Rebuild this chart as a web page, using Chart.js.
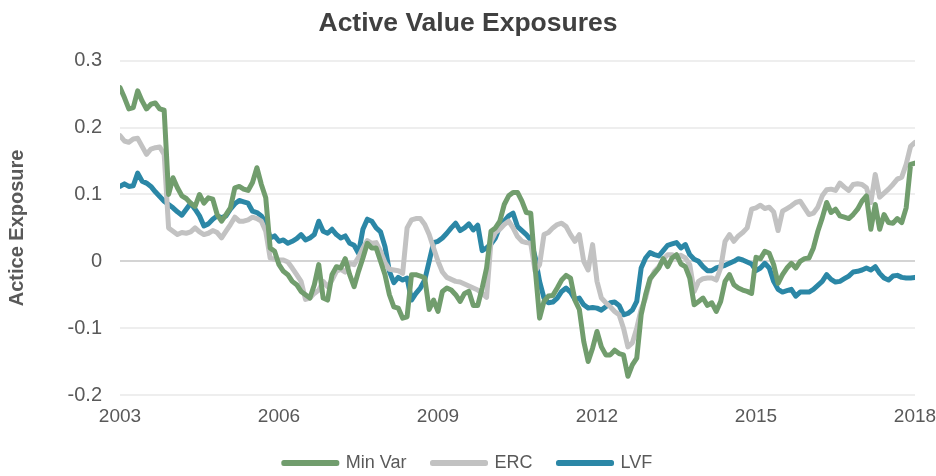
<!DOCTYPE html>
<html>
<head>
<meta charset="utf-8">
<script src="https://cdn.jsdelivr.net/npm/chart.js@4.4.1/dist/chart.umd.min.js"></script>
<style>
  body { margin: 0; background: #fff; }
  #wrap { width: 936px; height: 476px; }
</style>
</head>
<body>
<div id="wrap"><canvas id="chart"></canvas></div>
<script>
// Monthly series, Jan 2003 .. Jan 2018
const startYear = 2003;
const seriesNames = ["Min Var", "ERC", "LVF"];

const minVar = [
  0.26, 0.245, 0.228, 0.23, 0.255, 0.24, 0.228, 0.235, 0.237, 0.228,
  0.226, 0.10, 0.125, 0.11, 0.098, 0.094, 0.087, 0.082, 0.1, 0.087,
  0.095, 0.093, 0.07, 0.06, 0.07, 0.08, 0.11, 0.112, 0.108, 0.106,
  0.118, 0.14, 0.115, 0.095, 0.02, 0.015, -0.005, -0.015, -0.02, -0.03,
  -0.035, -0.045, -0.05, -0.055, -0.035, -0.005, -0.055, -0.058, -0.02, -0.008,
  -0.01, 0.004, -0.02, -0.038, -0.015, 0.005, 0.027, 0.02, 0.02, 0.0,
  -0.02, -0.05, -0.068, -0.07, -0.085, -0.083, -0.02, -0.02, -0.022, -0.025,
  -0.072, -0.058, -0.075, -0.045, -0.04, -0.043, -0.05, -0.06, -0.048, -0.045,
  -0.066, -0.066, -0.04, -0.01, 0.045, 0.05, 0.06, 0.085, 0.098, 0.103,
  0.103, 0.09, 0.073, 0.072, -0.01, -0.085, -0.06, -0.052, -0.051, -0.04,
  -0.028, -0.021, -0.025, -0.058, -0.072, -0.12, -0.15, -0.13, -0.105, -0.128,
  -0.14, -0.14, -0.133, -0.138, -0.14, -0.172, -0.155, -0.145, -0.08, -0.05,
  -0.026, -0.018, -0.01, 0.004, -0.008, 0.005, 0.01, -0.004, -0.008, -0.025,
  -0.065, -0.06, -0.055, -0.066, -0.062, -0.075, -0.06, -0.03, -0.02, -0.035,
  -0.04, -0.043, -0.045, -0.048, 0.006, 0.004, 0.015, 0.012, -0.005, -0.033,
  -0.02, -0.01, -0.003, -0.01, 0.0, 0.004, 0.005, 0.02, 0.045, 0.065,
  0.088, 0.073, 0.078, 0.068, 0.066, 0.064, 0.07, 0.078, 0.09, 0.098,
  0.048, 0.085, 0.048, 0.07, 0.058, 0.057, 0.064, 0.058, 0.08, 0.145, 0.147
];

const erc = [
  0.188, 0.18, 0.178, 0.183, 0.184, 0.172, 0.16, 0.168, 0.17, 0.171,
  0.16, 0.05, 0.045, 0.04, 0.043, 0.042, 0.044, 0.05, 0.044, 0.04,
  0.042, 0.046, 0.043, 0.035, 0.045, 0.055, 0.066, 0.06, 0.06, 0.062,
  0.066, 0.064, 0.06, 0.045, 0.005, 0.003, 0.002, 0.002, -0.001, -0.01,
  -0.02, -0.03, -0.057, -0.055, -0.048, -0.043, -0.03, -0.038, -0.028, -0.015,
  -0.012, -0.016, -0.003, -0.005, 0.006, 0.02, 0.031, 0.027, 0.028, 0.015,
  -0.002, -0.012, -0.013, -0.014, -0.018, 0.05, 0.062, 0.064, 0.064, 0.055,
  0.04, 0.02, 0.0, -0.016, -0.024, -0.027, -0.03, -0.031, -0.034, -0.037,
  -0.04, -0.043, -0.048, -0.054, 0.03, 0.043, 0.048, 0.055, 0.06, 0.05,
  0.037, 0.03, 0.028, 0.027, -0.015, -0.005, 0.04, 0.043, 0.05, 0.055,
  0.057, 0.052, 0.04, 0.03, 0.04, 0.0, -0.013, 0.025, -0.03, -0.055,
  -0.062, -0.068, -0.075, -0.08, -0.1, -0.128, -0.122, -0.1, -0.072, -0.055,
  -0.028, -0.015, -0.008, 0.003, 0.01, 0.01, 0.006, 0.009, 0.005, -0.005,
  -0.045, -0.03, -0.026, -0.025, -0.025, -0.028, -0.01, 0.03, 0.04, 0.03,
  0.038, 0.043, 0.05, 0.078, 0.08, 0.084, 0.079, 0.081, 0.074, 0.046,
  0.075, 0.079, 0.083, 0.088, 0.09, 0.08, 0.07, 0.072, 0.081, 0.098,
  0.107, 0.108, 0.106, 0.117, 0.111, 0.106, 0.115, 0.116, 0.115, 0.11,
  0.088, 0.13, 0.096, 0.102, 0.108, 0.115, 0.123, 0.126, 0.145, 0.172, 0.178
];

const lvf = [
  0.112, 0.116, 0.112, 0.113, 0.132, 0.12, 0.117, 0.112, 0.104, 0.097,
  0.09, 0.085, 0.08, 0.074, 0.069, 0.078, 0.087, 0.078, 0.068, 0.053,
  0.056, 0.063, 0.068, 0.065, 0.068, 0.078, 0.086, 0.091, 0.089, 0.087,
  0.075, 0.073, 0.068, 0.058, 0.035, 0.038, 0.03, 0.032, 0.027, 0.03,
  0.034, 0.04, 0.032, 0.035, 0.04, 0.06, 0.045, 0.042, 0.048, 0.04,
  0.035, 0.038, 0.027, 0.024, 0.012, 0.048, 0.063, 0.06, 0.05, 0.044,
  0.022, -0.015, -0.032, -0.024, -0.028, -0.025, -0.058, -0.048, -0.04, -0.028,
  0.0, 0.028, 0.03, 0.035, 0.042, 0.05, 0.057, 0.046, 0.05, 0.056,
  0.047, 0.054, 0.016, 0.02, 0.026, 0.035, 0.052, 0.06, 0.068, 0.072,
  0.052, 0.046, 0.04, 0.032, 0.006, -0.03, -0.055, -0.062, -0.061, -0.055,
  -0.045, -0.04, -0.046, -0.057, -0.055, -0.065, -0.07, -0.069, -0.07, -0.073,
  -0.068, -0.062, -0.061, -0.066, -0.08, -0.078, -0.073, -0.06, -0.01, 0.005,
  0.013, 0.01, 0.008, 0.016, 0.024, 0.026, 0.028, 0.02, 0.025, 0.01,
  0.003, 0.0, -0.008, -0.014, -0.014, -0.01, -0.008, -0.006, -0.003, 0.0,
  0.004, 0.002, -0.001, -0.004, -0.014, -0.01, -0.003, -0.01, -0.03, -0.042,
  -0.046, -0.044, -0.042, -0.052, -0.046, -0.046, -0.046, -0.042, -0.036, -0.03,
  -0.02, -0.027, -0.031, -0.03, -0.026, -0.022, -0.016, -0.015, -0.013, -0.01,
  -0.013, -0.008, -0.018, -0.025, -0.028, -0.022, -0.021, -0.024, -0.025, -0.025, -0.024
];

const yearTicks = [2003, 2006, 2009, 2012, 2015, 2018];
const yTicks = [0.3, 0.2, 0.1, 0, -0.1, -0.2];
const colors = ["#719d6d", "#c2c2c2", "#2b87a6"];

// decimal-year position of each month
const dates = minVar.map((_, i) => startYear + i / 12);

function toPoints(values) {
  return values.map((v, i) => ({ x: dates[i], y: v }));
}

const textColor = "#595959";
const fontFamily = "Liberation Sans, Arial, sans-serif";

new Chart(document.getElementById("chart"), {
  type: "line",
  data: {
    datasets: [minVar, erc, lvf].map((vals, k) => ({
      label: seriesNames[k],
      data: toPoints(vals),
      borderColor: colors[k],
      backgroundColor: colors[k],
      borderWidth: 5,
      pointRadius: 0,
      tension: 0,
      borderJoinStyle: "round",
      borderCapStyle: "round",
    })),
  },
  options: {
    responsive: true,
    maintainAspectRatio: false,
    animation: false,
    layout: { padding: { left: 0, right: 0, top: 0, bottom: -6 } },
    plugins: {
      title: {
        display: true,
        text: "Active Value Exposures",
        color: "#404040",
        font: { family: fontFamily, size: 26.5, weight: "bold" },
        padding: { top: 8, bottom: 21 },
      },
      legend: {
        position: "bottom",
        labels: {
          color: textColor,
          font: { family: fontFamily, size: 18 },
          boxWidth: 53,
          boxHeight: 1,
          padding: 26,
        },
      },
      tooltip: { enabled: false },
    },
    scales: {
      x: {
        type: "linear",
        min: 2003,
        max: 2018,
        afterFit: (s) => { s.height = 33; s.paddingLeft = 0; s.paddingRight = 21; },
        afterBuildTicks: (s) => { s.ticks = yearTicks.map((v) => ({ value: v })); },
        grid: { display: false, drawTicks: false },
        border: { display: false },
        ticks: {
          color: textColor,
          font: { family: fontFamily, size: 19 },
          padding: 10,
          maxRotation: 0,
          callback: (v) => String(v),
        },
      },
      y: {
        min: -0.2,
        max: 0.3,
        afterFit: (s) => { s.width = 120; },
        afterBuildTicks: (s) => { s.ticks = yTicks.map((v) => ({ value: v })); },
        grid: {
          drawTicks: false,
          lineWidth: 2,
          color: (c) => (c.tick && Math.abs(c.tick.value) < 1e-9 ? "#d4d4d4" : "#eeeeee"),
        },
        border: { display: false },
        title: {
          display: true,
          text: "Actice Exposure",
          color: textColor,
          font: { family: fontFamily, size: 20, weight: "bold" },
          padding: { top: 5, bottom: 0 },
        },
        ticks: {
          color: textColor,
          font: { family: fontFamily, size: 20 },
          padding: 18,
          callback: (v) => String(Math.round(v * 10) / 10),
        },
      },
    },
  },
});
</script>
</body>
</html>
